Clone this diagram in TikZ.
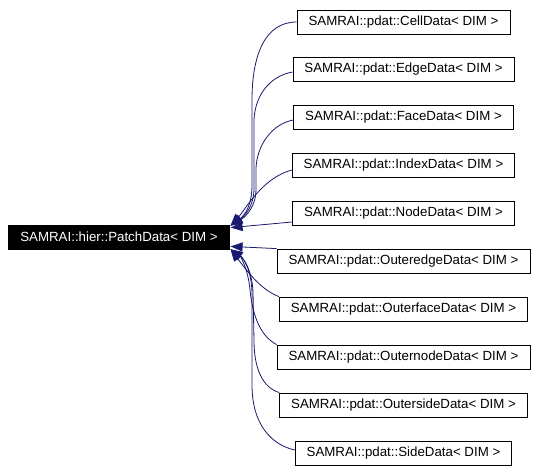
\documentclass[tikz,border=0pt]{standalone}
\usepackage{fontspec}
\newfontfamily\hv{Liberation Sans}
\usetikzlibrary{arrows.meta,calc}
\definecolor{edgeblue}{HTML}{191970}
\begin{document}
\begin{tikzpicture}[x=1pt,y=-1pt,
  cls/.style={draw=black,line width=0.8pt,fill=white,font=\hv\fontsize{13.3}{16}\selectfont,
    inner xsep=11.5pt,inner ysep=0pt,minimum height=24pt},
  basecls/.style={cls,fill=black,text=white},
  inh/.style={draw=edgeblue,line width=0.8pt,-{Triangle[length=12pt,width=9pt]}}]
\useasboundingbox (0,0) rectangle (538,471);
\fill[white] (0,0) rectangle (538,471);

\node[basecls] (patch) at (119,237) {SAMRAI::hier::PatchData< DIM >};
\node[cls] (cell)   at (403.5,22)  {SAMRAI::pdat::CellData< DIM >};
\node[cls] (edge)   at (403.5,69)  {SAMRAI::pdat::EdgeData< DIM >};
\node[cls] (face)   at (403.5,117) {SAMRAI::pdat::FaceData< DIM >};
\node[cls] (index)  at (403.5,165) {SAMRAI::pdat::IndexData< DIM >};
\node[cls] (nodeb)  at (403.5,213) {SAMRAI::pdat::NodeData< DIM >};
\node[cls] (oedge)  at (403.5,261) {SAMRAI::pdat::OuteredgeData< DIM >};
\node[cls] (oface)  at (403.5,309) {SAMRAI::pdat::OuterfaceData< DIM >};
\node[cls] (onode)  at (403.5,357) {SAMRAI::pdat::OuternodeData< DIM >};
\node[cls] (oside)  at (403.5,405) {SAMRAI::pdat::OutersideData< DIM >};
\node[cls] (side)   at (403.5,453) {SAMRAI::pdat::SideData< DIM >};

\coordinate (tipA) at ($(patch.north east)+(1,1)$);
\coordinate (tipB) at ($(patch.north east)+(1,3)$);
\coordinate (tipC) at ($(patch.south east)+(1,-3)$);
\coordinate (tipD) at ($(patch.south east)+(1,0)$);

\draw[inh] (cell.west) .. controls (265,22) and (252,55) .. (252,100)
  -- (252,185) .. controls (252,205) and (245,215) .. (tipA);
\draw[inh] ($(edge.west)+(0,3)$) .. controls (270,76) and (255,95) .. (254,120)
  -- (254,188) .. controls (254,205) and (246,215) .. (tipA);
\draw[inh] ($(face.west)+(0,3)$) .. controls (272,124) and (257,145) .. (256,168)
  -- (256,190) .. controls (256,205) and (247,216) .. (tipA);
\draw[inh] ($(index.west)+(0,5)$) .. controls (262,178) and (245,210) .. (tipA);
\draw[inh] ($(nodeb.west)+(0,9)$) -- (tipB);
\draw[inh] (oedge.north west) -- (tipC);
\draw[inh] (oface.north west) .. controls (262,290) and (250,275) .. (tipD);
\draw[inh] (onode.north west) .. controls (258,335) and (252,310) .. (250,290)
  .. controls (248,268) and (240,256) .. (tipD);
\draw[inh] (oside.north west) .. controls (262,387) and (254,368) .. (254,340)
  -- (253,292) .. controls (252,268) and (242,257) .. (tipD);
\draw[inh] ($(side.west)+(0,-3)$) .. controls (272,445) and (252,425) .. (252,385)
  -- (252,295) .. controls (252,268) and (242,257) .. (tipD);
\end{tikzpicture}
\end{document}
